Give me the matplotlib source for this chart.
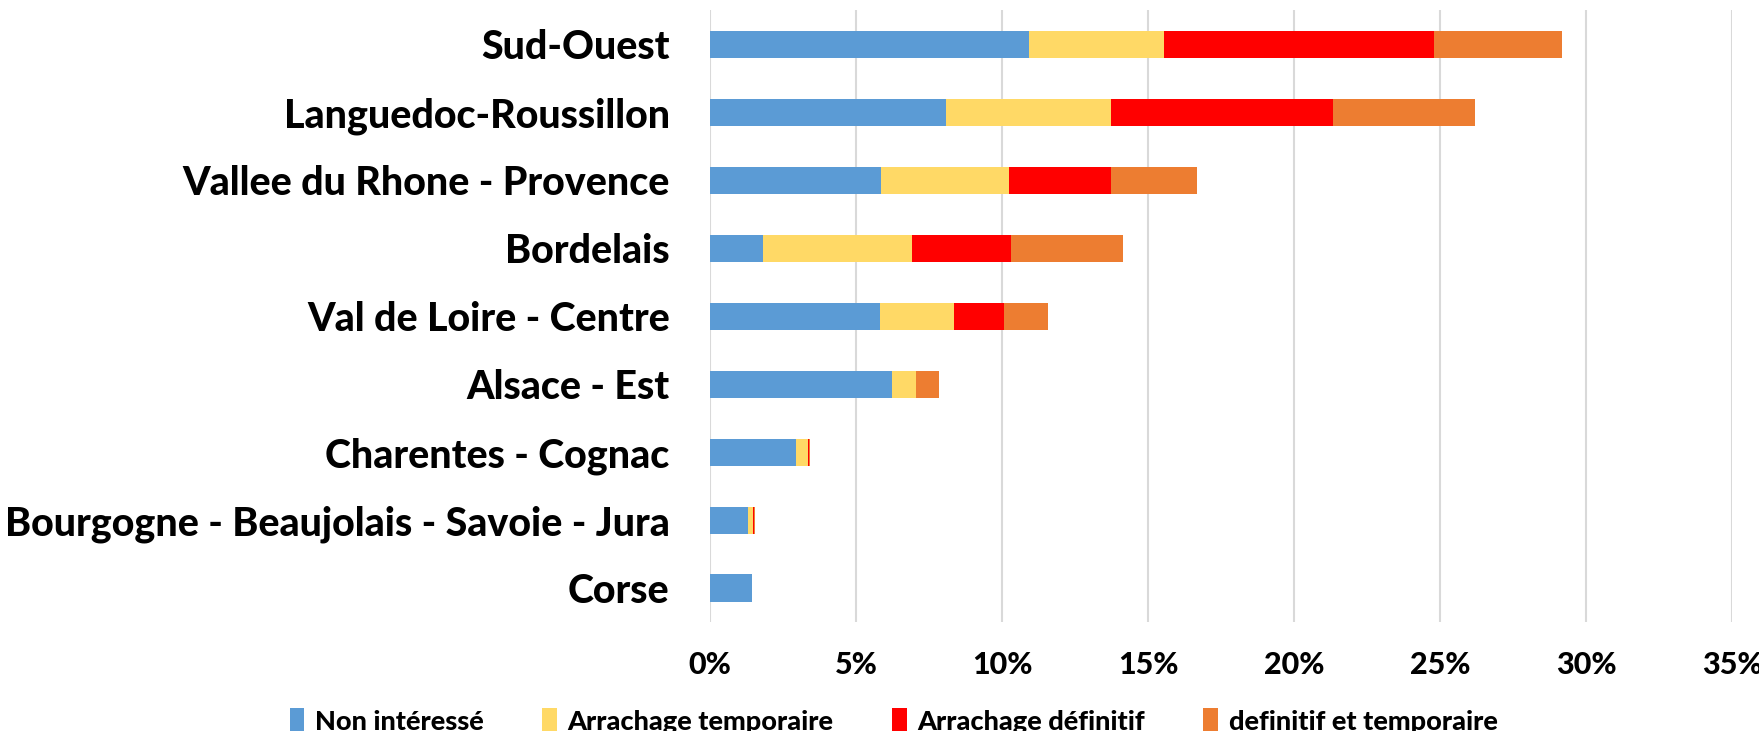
import numpy as np
import matplotlib.pyplot as plt
from matplotlib.ticker import FuncFormatter

# Data (share of vineyards, %)
regions = ['Sud-Ouest', 'Languedoc-Roussillon', 'Vallee du Rhone - Provence',
           'Bordelais', 'Val de Loire - Centre', 'Alsace - Est',
           'Charentes - Cognac', 'Bourgogne - Beaujolais - Savoie - Jura', 'Corse']
non_interesse = [10.93, 8.08, 5.86, 1.81, 5.83, 6.25, 2.95, 1.31, 1.45]
arrachage_temporaire = [4.63, 5.65, 4.37, 5.11, 2.53, 0.81, 0.40, 0.16, 0.0]
arrachage_definitif = [9.25, 7.59, 3.52, 3.38, 1.71, 0.0, 0.04, 0.04, 0.0]
definitif_et_temporaire = [4.36, 4.88, 2.94, 3.84, 1.50, 0.78, 0.02, 0.02, 0.0]

series = [
    ('Non intéressé', non_interesse, '#5B9BD5'),
    ('Arrachage temporaire', arrachage_temporaire, '#FFD966'),
    ('Arrachage définitif', arrachage_definitif, '#FF0000'),
    ('definitif et temporaire', definitif_et_temporaire, '#ED7D31'),
]

plt.rcParams['font.family'] = ['Lato', 'DejaVu Sans']
plt.rcParams['font.weight'] = 'bold'

fig = plt.figure(figsize=(17.59, 7.31), dpi=100)
ax = fig.add_axes([0.4036, 0.149, 0.5811, 0.837])

y = np.arange(len(regions))
left = np.zeros(len(regions))
for label, vals, color in series:
    vals = np.array(vals)
    ax.barh(y, vals, left=left, height=0.4, color=color, label=label, zorder=3)
    left += vals

ax.set_yticks(y)
ax.set_yticklabels(regions, fontsize=28.4, fontweight='black')
ax.set_ylim(len(regions) - 0.5, -0.5)
ax.set_xlim(0, 35)
ax.set_xticks(np.arange(0, 36, 5))
ax.xaxis.set_major_formatter(FuncFormatter(lambda v, p: f'{v:.0f}%'))
for t in ax.get_xticklabels():
    t.set_fontsize(22)
    t.set_fontweight('black')

ax.grid(axis='x', color='#D9D9D9', linewidth=1.5, zorder=0)
for s in ax.spines.values():
    s.set_visible(False)
ax.tick_params(axis='both', length=0)
ax.tick_params(axis='y', pad=29)
ax.tick_params(axis='x', pad=21)

fig.legend(loc='center', bbox_to_anchor=(0.508, 0.014), ncol=4, frameon=False,
           prop={'size': 19.5, 'weight': 'black'}, handlelength=0.55, handleheight=1.1,
           handletextpad=0.4, columnspacing=2.14)

fig.savefig('out.png', dpi=100)
